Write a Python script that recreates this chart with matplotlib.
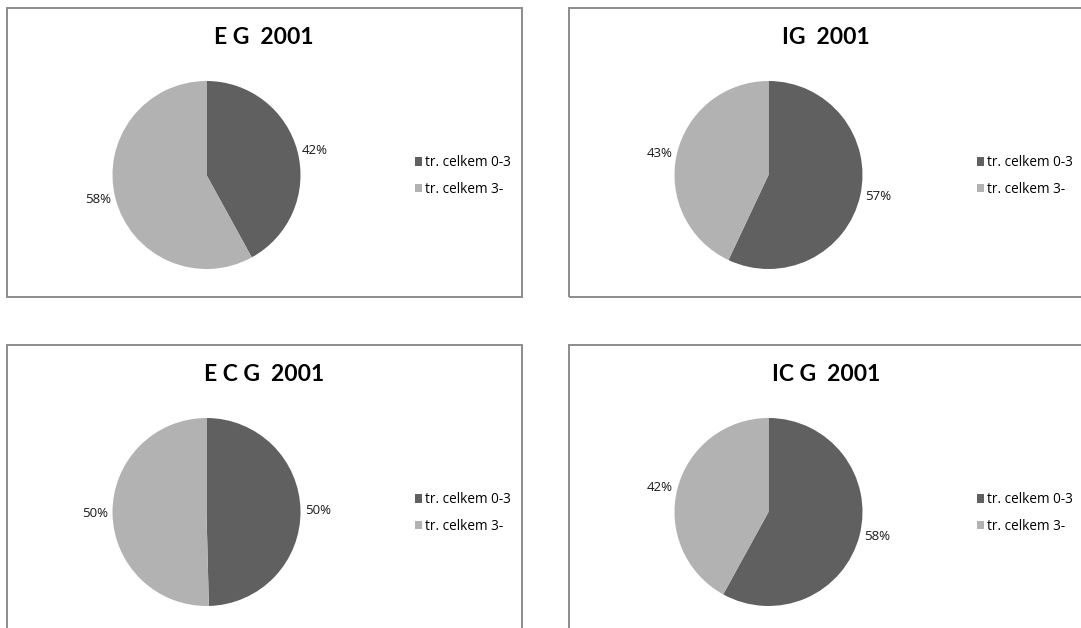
import math

import matplotlib.pyplot as plt
from matplotlib.patches import Rectangle

W, H = 1081, 628

categories = ["tr. celkem 0-3", "tr. celkem 3-"]
titles = ["E G  2001", "IG  2001", "E C G  2001", "IC G  2001"]
eg_2001 = [42, 58]
ig_2001 = [57, 43]
ecg_2001 = [49.6, 50.4]
icg_2001 = [58, 42]
series = [eg_2001, ig_2001, ecg_2001, icg_2001]

# top-left corners of the four chart boxes, in pixels from the top-left of the page
box_corners = [(7, 8), (569, 8), (7, 345), (569, 345)]
box_w, box_h = 515, 289

colors = ["#606060", "#b2b2b2"]
plt.rcParams['font.family'] = ['Open Sans', 'DejaVu Sans']


def fx(px):
    return px / W


def fy(py):
    return 1 - py / H


def draw_panel(fig, left, top, title, values):
    fig.patches.append(Rectangle((fx(left), fy(top + box_h)), box_w / W, box_h / H,
                                 transform=fig.transFigure, fill=False,
                                 edgecolor="#8c8c8c", linewidth=1.4))
    fig.text(fx(left + 257), fy(top + 29.5), title, ha="center", va="center",
             fontsize=16.5, fontweight="bold", color="black",
             family=["Lato", "DejaVu Sans"])

    cx, cy, r = left + 199.5, top + 167, 94
    ax = fig.add_axes([fx(cx - r), fy(cy + r), 2 * r / W, 2 * r / H])
    wedges, _ = ax.pie(values, colors=colors, startangle=90, counterclock=False,
                       radius=1, wedgeprops=dict(linewidth=0))
    ax.set_xlim(-1, 1)
    ax.set_ylim(-1, 1)
    ax.set_aspect("equal")
    ax.axis("off")

    # percentage labels just outside each slice
    for w, v in zip(wedges, values):
        ang = math.radians((w.theta1 + w.theta2) / 2)
        x, y = math.cos(ang), math.sin(ang)
        pct = 100 * v / sum(values)
        ax.text(1.05 * x, 1.05 * y, "%.0f%%" % pct, fontsize=9.5,
                ha="left" if x > 0 else "right", va="center", color="#1a1a1a")

    ax.legend(wedges, categories, loc="center left",
              bbox_to_anchor=(fx(left + 407.5), fy(top + 168)),
              bbox_transform=fig.transFigure, frameon=False, fontsize=9.8,
              handlelength=0.55, handleheight=0.55, handletextpad=0.25,
              borderpad=0, borderaxespad=0, labelspacing=0.85)


fig = plt.figure(figsize=(W / 100, H / 100), dpi=100)
for (left, top), title, values in zip(box_corners, titles, series):
    draw_panel(fig, left, top, title, values)

fig.savefig("out.png", dpi=100, facecolor="white")
